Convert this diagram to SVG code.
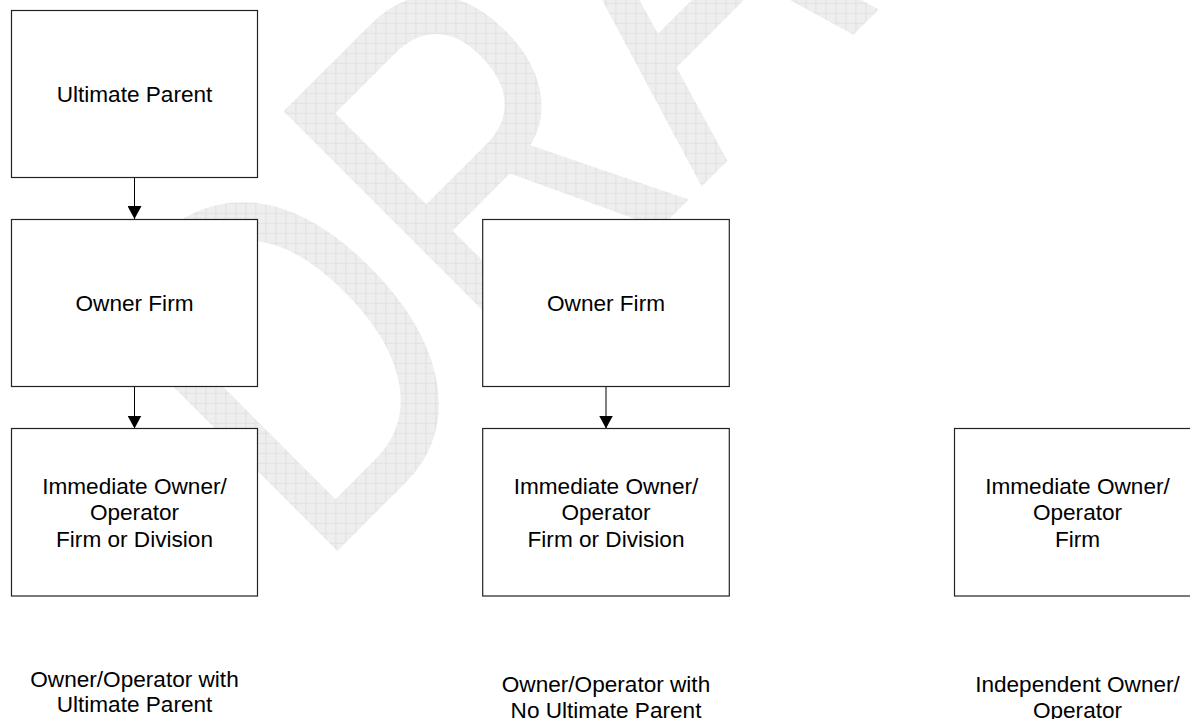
<svg xmlns="http://www.w3.org/2000/svg" width="1190" height="719" viewBox="0 0 1190 719">
  <style>
    .box { fill: #ffffff; stroke: #222222; stroke-width: 1.2; }
    .lbl { font-family: "Liberation Sans", Arial, sans-serif; font-size: 22.6px; fill: #000000; text-anchor: middle; }
    .conn { stroke: #000000; stroke-width: 1; fill: none; marker-end: url(#arrow); }
  </style>
  <defs>
    <pattern id="grid" width="10" height="10" patternUnits="userSpaceOnUse" patternTransform="scale(1.3423,1) rotate(45)">
      <rect width="10" height="10" fill="#eeeeee"/>
      <path d="M0,0.5 H10 M0.5,0 V10" stroke="#e0e0e0" stroke-width="1"/>
    </pattern>
    <marker id="arrow" markerUnits="userSpaceOnUse" markerWidth="14" markerHeight="14" refX="13" refY="7" orient="auto">
      <path d="M0,0 L13,7 L0,14 z" fill="#000000"/>
    </marker>
  </defs>
  <rect width="1190" height="719" fill="#ffffff"/>
  <g id="watermark">
    <text transform="translate(315.4,572.8) rotate(-45) scale(0.745,1)" x="0" y="0" font-family="Liberation Sans, Arial, sans-serif" font-size="507" fill="url(#grid)">DRAFT</text>
  </g>
  <g id="connectors">
    <line class="conn" x1="134.5" y1="177.5" x2="134.5" y2="219"/>
    <line class="conn" x1="134.5" y1="386.5" x2="134.5" y2="428.5"/>
    <line class="conn" x1="606" y1="386.5" x2="606" y2="428.5"/>
  </g>
  <g id="ultimate-parent">
    <rect class="box" x="11.5" y="10.5" width="246" height="167"/>
    <text class="lbl" x="134.5" y="101.5">Ultimate Parent</text>
  </g>
  <g id="owner-firm-1">
    <rect class="box" x="11.5" y="219.5" width="246" height="167"/>
    <text class="lbl" x="134.5" y="310.5">Owner Firm</text>
  </g>
  <g id="immediate-1">
    <rect class="box" x="11.5" y="428.5" width="246" height="167.5"/>
    <text class="lbl" x="134.5" y="493.5">Immediate Owner/</text>
    <text class="lbl" x="134.5" y="520">Operator</text>
    <text class="lbl" x="134.5" y="546.5">Firm or Division</text>
  </g>
  <g id="owner-firm-2">
    <rect class="box" x="482.7" y="219.5" width="246.6" height="167"/>
    <text class="lbl" x="606" y="310.5">Owner Firm</text>
  </g>
  <g id="immediate-2">
    <rect class="box" x="482.7" y="428.5" width="246.6" height="167.5"/>
    <text class="lbl" x="606" y="493.5">Immediate Owner/</text>
    <text class="lbl" x="606" y="520">Operator</text>
    <text class="lbl" x="606" y="546.5">Firm or Division</text>
  </g>
  <g id="immediate-3">
    <rect class="box" x="954.5" y="428.5" width="246" height="167.5"/>
    <text class="lbl" x="1077.5" y="493.5">Immediate Owner/</text>
    <text class="lbl" x="1077.5" y="520">Operator</text>
    <text class="lbl" x="1077.5" y="546.5">Firm</text>
  </g>
  <g id="caption-1">
    <text class="lbl" x="134.5" y="686.5">Owner/Operator with</text>
    <text class="lbl" x="134.5" y="712">Ultimate Parent</text>
  </g>
  <g id="caption-2">
    <text class="lbl" x="606" y="692">Owner/Operator with</text>
    <text class="lbl" x="606" y="717.5">No Ultimate Parent</text>
  </g>
  <g id="caption-3">
    <text class="lbl" x="1077.5" y="692">Independent Owner/</text>
    <text class="lbl" x="1077.5" y="717.5">Operator</text>
  </g>
</svg>
